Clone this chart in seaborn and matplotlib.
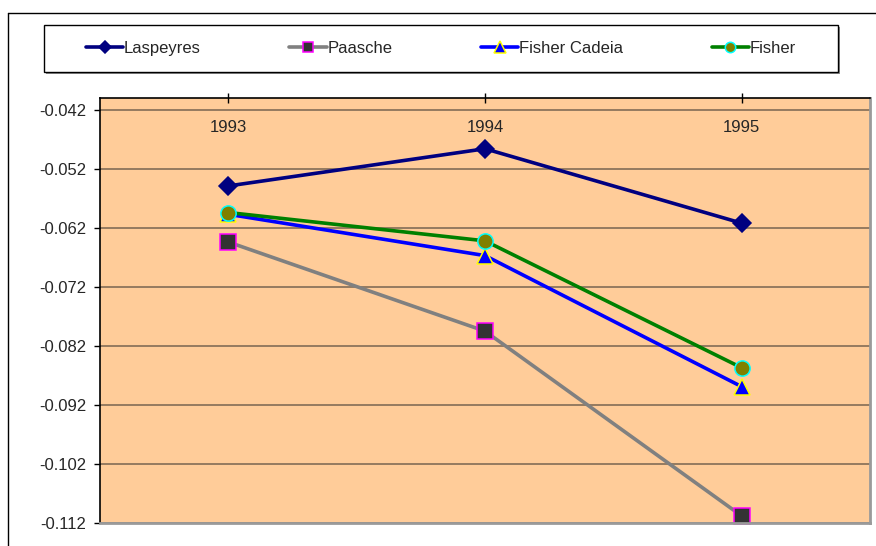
import matplotlib
matplotlib.use("Agg")
import matplotlib.pyplot as plt
from matplotlib.patches import Rectangle
from matplotlib.lines import Line2D
import seaborn as sns
import pandas as pd

# Index values by year
years = ["1993", "1994", "1995"]
laspeyres = [-0.0549, -0.0486, -0.0612]
paasche = [-0.0644, -0.0795, -0.1108]
fisher_cadeia = [-0.0597, -0.0667, -0.0889]
fisher = [-0.0594, -0.0642, -0.0857]
y_ticks = [-0.042, -0.052, -0.062, -0.072, -0.082, -0.092, -0.102, -0.112]

series = {
    "Laspeyres": laspeyres,
    "Paasche": paasche,
    "Fisher Cadeia": fisher_cadeia,
    "Fisher": fisher,
}
df = pd.DataFrame(
    [(name, yr, v) for name, vals in series.items() for yr, v in zip(years, vals)],
    columns=["serie", "ano", "valor"],
)

styles = {
    "Laspeyres": dict(color="#000080", marker="D", markersize=9.2,
                      markerfacecolor="#000080", markeredgecolor="#000080"),
    "Paasche": dict(color="#808080", marker="s", markersize=11.0,
                    markerfacecolor="#333333", markeredgecolor="#FF00FF"),
    "Fisher Cadeia": dict(color="#0000FF", marker="^", markersize=12.0,
                          markerfacecolor="#0000FF", markeredgecolor="#FFFF00"),
    "Fisher": dict(color="#008000", marker="o", markersize=11.0,
                   markerfacecolor="#808000", markeredgecolor="#00FFFF"),
}
legend_marker_scale = 0.68

sns.set_theme(style="white")
plt.rcParams["font.family"] = ["Liberation Sans", "DejaVu Sans"]

W, H = 876, 546
fig = plt.figure(figsize=(W / 100, H / 100), dpi=100)
fig.patch.set_facecolor("white")

# plot area in pixel coordinates
px_l, px_r, px_t, px_b = 100, 870, 98, 523
ax = fig.add_axes([px_l / W, 1 - px_b / H, (px_r - px_l) / W, (px_b - px_t) / H])
ax.set_facecolor("#FFCC99")

for name in series:
    sub = df[df["serie"] == name]
    sns.lineplot(data=sub, x="ano", y="valor", ax=ax, label=name,
                 linewidth=2.6, markeredgewidth=1.1, clip_on=False,
                 sort=False, **styles[name])

ax.set_xlim(-0.5, 2.5)
ax.set_ylim(-0.112, -0.040)
ax.set_yticks(y_ticks)
ax.set_yticklabels([f"{t:.3f}" for t in y_ticks])
ax.set_xlabel("")
ax.set_ylabel("")

ax.grid(axis="y", color="#786450", linewidth=1.1)
ax.grid(axis="x", visible=False)
ax.set_axisbelow(True)

# category axis sits at the top, labels drawn just beneath it
ax.xaxis.tick_top()
ax.tick_params(axis="x", which="both", top=True, bottom=False, labeltop=True,
               labelbottom=False, direction="inout", length=7, width=1,
               color="black", labelsize=12, pad=-19)
for lbl in ax.get_xticklabels():
    lbl.set_va("top")
ax.tick_params(axis="y", left=True, direction="out", length=4, width=1,
               color="black", labelsize=12, pad=6)

for side in ("left", "top"):
    ax.spines[side].set_color("black")
    ax.spines[side].set_linewidth(1.2)
for side in ("right", "bottom"):
    ax.spines[side].set_color("#9a9a9a")
    ax.spines[side].set_linewidth(2)

handles, labels = ax.get_legend_handles_labels()
if ax.get_legend() is not None:
    ax.get_legend().remove()

# legend box with a drop shadow
lx0, lx1, ly0, ly1 = 44, 838, 25, 72
fig.patches.append(Rectangle(((lx0 + 2) / W, 1 - (ly1 + 2) / H), (lx1 - lx0) / W,
                             (ly1 - ly0) / H, transform=fig.transFigure,
                             facecolor="#8c8c8c", edgecolor="none", zorder=1))
fig.patches.append(Rectangle((lx0 / W, 1 - ly1 / H), (lx1 - lx0) / W,
                             (ly1 - ly0) / H, transform=fig.transFigure,
                             facecolor="white", edgecolor="black", linewidth=1,
                             zorder=2))

leg = fig.legend(handles, labels, ncol=4, frameon=False, loc="center",
                 bbox_to_anchor=((lx0 + lx1) / 2 / W, 1 - (ly0 + ly1) / 2 / H),
                 bbox_transform=fig.transFigure, fontsize=12,
                 handlelength=2.25, handletextpad=0.05, columnspacing=5.3,
                 borderaxespad=0, borderpad=0)
leg.set_zorder(5)
for h, name in zip(leg.legend_handles, labels):
    h.set_markersize(styles[name]["markersize"] * legend_marker_scale)

# outer chart frame
fig.add_artist(Line2D([8 / W, 1], [1 - 13 / H, 1 - 13 / H],
                      transform=fig.transFigure, color="black", linewidth=1))
fig.add_artist(Line2D([8 / W, 8 / W], [0, 1 - 13 / H],
                      transform=fig.transFigure, color="black", linewidth=1))

fig.savefig("out.png", dpi=100)
